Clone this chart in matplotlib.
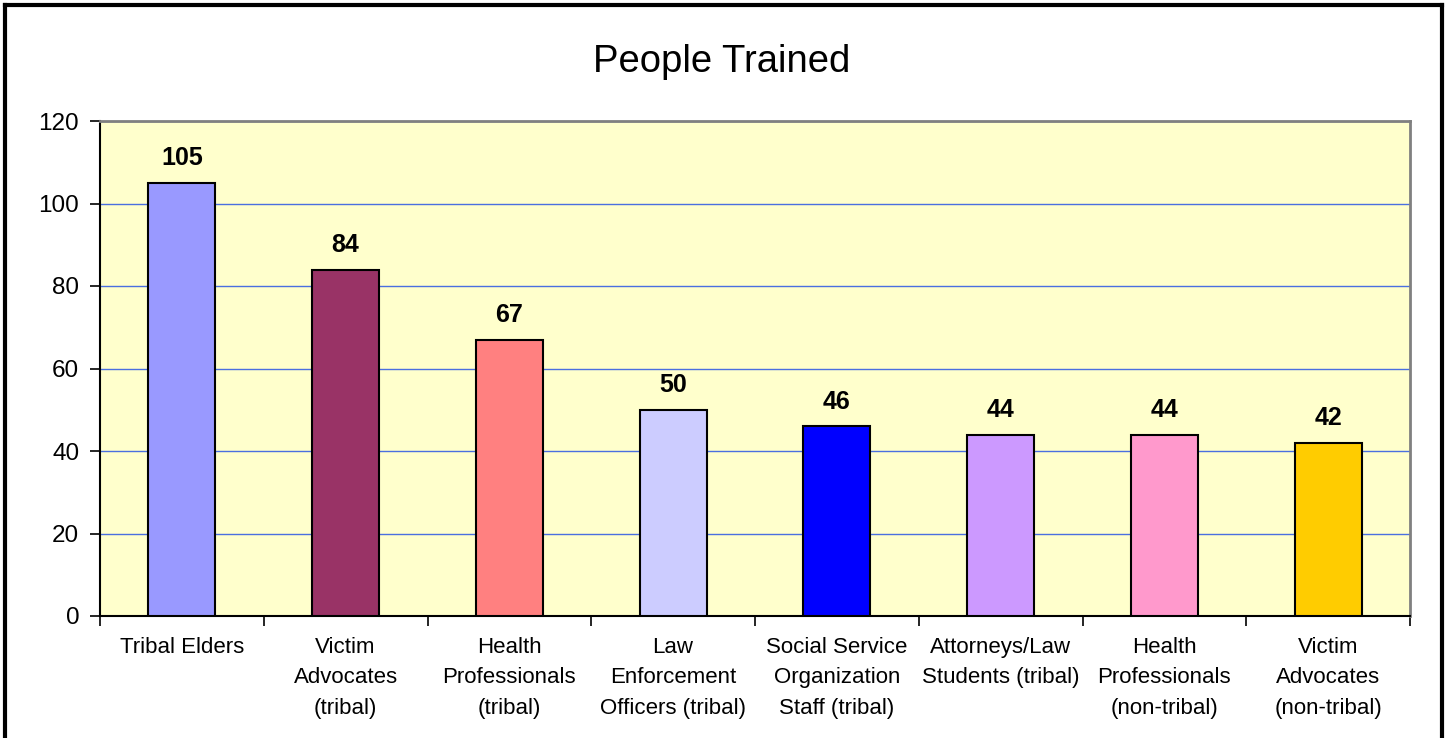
import matplotlib.pyplot as plt
from matplotlib.lines import Line2D

categories = ["Tribal Elders", "Victim\nAdvocates\n(tribal)", "Health\nProfessionals\n(tribal)",
              "Law\nEnforcement\nOfficers (tribal)", "Social Service\nOrganization\nStaff (tribal)",
              "Attorneys/Law\nStudents (tribal)", "Health\nProfessionals\n(non-tribal)",
              "Victim\nAdvocates\n(non-tribal)"]
values = [105, 84, 67, 50, 46, 44, 44, 42]
colors = ["#9999FF", "#993366", "#FF8080", "#CCCCFF", "#0000FF", "#CC99FF", "#FF99CC", "#FFCC00"]

plt.rcParams['font.family'] = ['Liberation Sans', 'DejaVu Sans']

fig = plt.figure(figsize=(14.47, 7.38), dpi=100)
ax = fig.add_axes([100/1447, 1-616/738, 1310/1447, 495/738])
ax.set_facecolor("#FFFFCC")

x = range(len(values))
bars = ax.bar(x, values, width=0.41, color=colors, edgecolor="black", linewidth=1.5, zorder=3)
for b, v in zip(bars, values):
    ax.annotate(str(v), (b.get_x() + b.get_width()/2, v), xytext=(0, 9), textcoords="offset points",
                ha="center", va="bottom", fontsize=18, fontweight="bold", zorder=4)

ax.set_xlim(-0.5, len(values) - 0.5)
ax.set_ylim(0, 120)
ax.set_yticks(range(0, 121, 20))
ax.yaxis.grid(True, color="#4a6fe0", linewidth=1, zorder=0)
ax.set_axisbelow(True)

ax.set_xticks([i - 0.5 for i in range(len(values) + 1)])
ax.set_xticklabels([])
ax.set_xticks(list(x), minor=True)
ax.set_xticklabels(categories, minor=True, fontsize=16, linespacing=1.6, va="top")
ax.tick_params(axis="x", which="major", length=7, width=1.2, direction="out")
ax.tick_params(axis="x", which="minor", length=0, pad=15)
ax.tick_params(axis="y", length=7, width=1.2, labelsize=17.5, pad=8)

for s in ("left", "bottom"):
    ax.spines[s].set_color("black")
    ax.spines[s].set_linewidth(1.5)
for s in ("top", "right"):
    ax.spines[s].set_color("#808080")
    ax.spines[s].set_linewidth(2)

fig.text(722/1447, 1-72/738, "People Trained", ha="center", va="baseline", fontsize=27.5)

# chart border
lw = 3
fig.add_artist(Line2D([5/1447, 5/1447], [0, 1-5/738], color="black", linewidth=lw, transform=fig.transFigure))
fig.add_artist(Line2D([5/1447, 1442/1447], [1-5/738, 1-5/738], color="black", linewidth=lw, transform=fig.transFigure))
fig.add_artist(Line2D([1442/1447, 1442/1447], [0, 1-5/738], color="black", linewidth=lw, transform=fig.transFigure))

fig.savefig("out.png", dpi=100)
